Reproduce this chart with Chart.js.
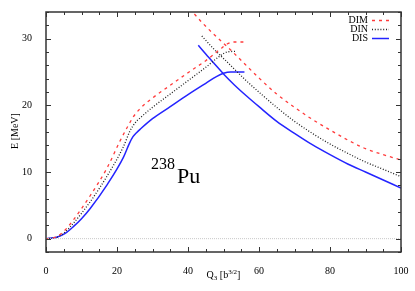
<!DOCTYPE html>
<html>
<head>
<meta charset="utf-8">
<script src="https://cdn.jsdelivr.net/npm/chart.js@4"></script>
<style>
  html, body { margin: 0; padding: 0; background: #fff; }
</style>
</head>
<body>
<canvas id="myChart" width="415" height="291"></canvas>
<script>
// curves of E(Q3) for 238Pu
const dimLowX = [0, 3, 5.4, 7.7, 10, 12.4, 17.1, 20.8, 23.2, 24.5, 26.5, 30, 35, 40, 45, 49, 51, 53, 55.6]
const dimLowY = [0, 0.3, 1.3, 2.8, 4.5, 6.4, 10.5, 14.6, 17.0, 18.2, 19.5, 21.1, 23.0, 24.9, 26.7, 28.4, 29.2, 29.5, 29.5]
const dimUpX = [41.8, 44, 47, 50, 53, 56, 60, 65, 70, 75, 80, 85, 90, 95, 100]
const dimUpY = [33.7, 32.4, 30.8, 29.3, 27.8, 26.2, 24.1, 21.7, 19.7, 17.9, 16.3, 14.8, 13.5, 12.6, 11.8]

const dinLowX = [0, 3, 5.4, 7.7, 10, 12.4, 17.1, 21.8, 23.7, 25, 26.5, 30, 35, 40, 45, 49, 51, 53.7]
const dinLowY = [0, 0.2, 1.0, 2.3, 3.8, 5.5, 9.3, 13.8, 16.2, 17.3, 18.1, 19.7, 21.7, 23.7, 25.7, 27.4, 28.0, 28.1]
const dinUpX = [43.9, 47, 51.8, 56, 60.8, 65.9, 70, 75, 80, 85, 90, 95, 100]
const dinUpY = [30.4, 28.6, 26.1, 23.9, 21.6, 19.3, 17.6, 15.8, 14.2, 12.8, 11.5, 10.4, 9.3]

const disLowX = [0, 3, 5.4, 7.7, 10, 12.4, 17.1, 21.8, 23.5, 24.5, 25.5, 26.5, 30, 35, 40, 45, 48, 50, 52, 55.9]
const disLowY = [0, 0.2, 0.8, 1.8, 3.0, 4.5, 8.0, 12.2, 14.3, 15.3, 15.9, 16.4, 18.0, 19.8, 21.6, 23.3, 24.3, 24.8, 25.0, 25.0]
const disUpX = [42.9, 45, 47.5, 50.2, 53, 56.5, 60, 65, 70, 75, 80, 85, 90, 95, 100]
const disUpY = [29.0, 27.7, 26.2, 24.6, 23.1, 21.4, 19.8, 17.6, 15.8, 14.1, 12.6, 11.2, 10.0, 8.8, 7.6]

const xTicks = [0, 20, 40, 60, 80, 100]
const yTicks = [0, 10, 20, 30]
const xMinor = [5, 10, 15, 25, 30, 35, 45, 50, 55, 65, 70, 75, 85, 90, 95]
const yMinor = [-2, 2, 4, 6, 8, 12, 14, 16, 18, 22, 24, 26, 28, 32, 34]

const legendNames = ['DIM', 'DIN', 'DIS']

const red = '#ff3b3b'
const black = '#222222'
const blue = '#2424ff'

function pts(xs, ys) {
  return xs.map((x, i) => ({x: x, y: ys[i]}))
}

function line(data, color, dash, width) {
  return {
    data: data,
    borderColor: color,
    borderDash: dash,
    borderWidth: width,
    showLine: true,
    pointRadius: 0,
    fill: false,
    cubicInterpolationMode: 'monotone',
    tension: 0.4
  }
}

const styles = [
  {color: red, dash: [3, 4], width: 1.3},
  {color: black, dash: [1, 1.8], width: 1.3},
  {color: blue, dash: [], width: 1.5}
]

// frame, inward ticks on all sides, legend and texts
const decor = {
  id: 'decor',
  afterDatasetsDraw(chart) {
    const c = chart.ctx
    const a = chart.chartArea
    const xs = chart.scales.x
    const ys = chart.scales.y
    c.save()
    c.strokeStyle = '#333'
    c.lineWidth = 1
    c.setLineDash([])
    c.beginPath()
    const tick = (v, len, horiz) => {
      if (horiz) {
        const p = Math.round(xs.getPixelForValue(v)) + 0.5
        c.moveTo(p, a.bottom); c.lineTo(p, a.bottom - len)
        c.moveTo(p, a.top); c.lineTo(p, a.top + len)
      } else {
        const p = Math.round(ys.getPixelForValue(v)) + 0.5
        c.moveTo(a.left, p); c.lineTo(a.left + len, p)
        c.moveTo(a.right, p); c.lineTo(a.right - len, p)
      }
    }
    xTicks.forEach(v => tick(v, 5, true))
    xMinor.forEach(v => tick(v, 3, true))
    yTicks.forEach(v => tick(v, 5, false))
    yMinor.forEach(v => tick(v, 3, false))
    c.stroke()
    c.lineWidth = 1.5
    c.strokeRect(a.left, a.top, a.right - a.left, a.bottom - a.top)

    // legend
    c.font = '10px "Liberation Serif"'
    c.fillStyle = '#000'
    c.textAlign = 'right'
    c.textBaseline = 'middle'
    legendNames.forEach((n, i) => {
      const y = 20 + i * 9
      c.fillText(n, 368, y)
      const s = styles[i]
      c.strokeStyle = s.color
      c.lineWidth = s.width
      c.setLineDash(s.dash)
      c.beginPath()
      c.moveTo(372, y + 0.5)
      c.lineTo(389, y + 0.5)
      c.stroke()
    })
    c.setLineDash([])

    // nucleus label
    c.fillStyle = '#000'
    c.textAlign = 'left'
    c.textBaseline = 'alphabetic'
    c.font = '16px "Liberation Serif"'
    c.fillText('238', 151, 169)
    c.font = '22px "Liberation Serif"'
    c.fillText('Pu', 177, 183)

    // x axis title Q3 [b3/2]
    const parts = [['Q', 10, 0], ['3', 7, 2], [' [b', 10, 0], ['3/2', 7, -4], [']', 10, 0]]
    let w = 0
    parts.forEach(p => { c.font = p[1] + 'px "Liberation Serif"'; w += c.measureText(p[0]).width })
    let x = (a.left + a.right) / 2 - w / 2
    parts.forEach(p => {
      c.font = p[1] + 'px "Liberation Serif"'
      c.fillText(p[0], x, 278 + p[2])
      x += c.measureText(p[0]).width
    })

    // y axis title
    c.translate(18, 131)
    c.rotate(-Math.PI / 2)
    c.textAlign = 'center'
    c.font = '10px "Liberation Serif"'
    c.fillText('E [MeV]', 0, 0)
    c.restore()
  }
}

Chart.defaults.font.family = '"Liberation Serif"'
Chart.defaults.font.size = 10
Chart.defaults.color = '#000'

const ctx = document.getElementById('myChart')
const sets = [
  {data: pts([0, 100], [0, 0]), borderColor: '#c8c8c8', borderDash: [1, 1], borderWidth: 1, showLine: true, pointRadius: 0},
  line(pts(dimLowX, dimLowY), red, styles[0].dash, styles[0].width),
  line(pts(dimUpX, dimUpY), red, styles[0].dash, styles[0].width),
  line(pts(dinLowX, dinLowY), black, styles[1].dash, styles[1].width),
  line(pts(dinUpX, dinUpY), black, styles[1].dash, styles[1].width),
  line(pts(disLowX, disLowY), blue, styles[2].dash, styles[2].width),
  line(pts(disUpX, disUpY), blue, styles[2].dash, styles[2].width)
]

new Chart(ctx, {
  type: 'scatter',
  data: {datasets: sets},
  options: {
    responsive: false,
    animation: false,
    devicePixelRatio: 1,
    layout: {padding: {left: 0, top: 11, right: 14, bottom: 0}},
    plugins: {legend: {display: false}, tooltip: {enabled: false}},
    scales: {
      x: {
        type: 'linear', min: 0, max: 100,
        grid: {display: false}, border: {display: false},
        ticks: {padding: 5, font: {size: 10}},
        afterBuildTicks: s => { s.ticks = xTicks.map(v => ({value: v})) },
        afterFit: s => { s.height = 39 }
      },
      y: {
        type: 'linear', min: -2, max: 34,
        grid: {display: false}, border: {display: false},
        ticks: {padding: 6, font: {size: 10}},
        afterBuildTicks: s => { s.ticks = yTicks.map(v => ({value: v})) },
        afterFit: s => { s.width = 46 }
      }
    }
  },
  plugins: [decor]
})
</script>
</body>
</html>
